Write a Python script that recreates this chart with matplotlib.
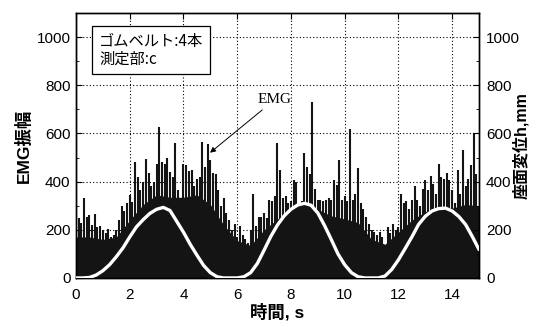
import numpy as np
import matplotlib
matplotlib.use("Agg")
import matplotlib.pyplot as plt

plt.rcParams['font.family'] = ['Liberation Sans', 'Noto Sans CJK JP', 'DejaVu Sans']

# ---- data ----
emg_time = np.round(np.arange(0, 15, 0.1), 1)
emg_peak = [
    270, 250, 230, 330, 255, 260, 220, 265, 210, 215,
    200, 185, 205, 170, 180, 200, 240, 300, 280, 310,
    345, 315, 480, 420, 365, 400, 495, 435, 380, 400,
    475, 625, 480, 475, 500, 440, 420, 560, 365, 285,
    475, 470, 445, 450, 380, 410, 420, 565, 460, 555,
    490, 435, 430, 365, 300, 330, 270, 240, 200, 225,
    170, 215, 180, 160, 145, 200, 350, 215, 255, 255,
    270, 250, 325, 320, 340, 560, 450, 330, 340, 310,
    320, 405, 400, 310, 320, 520, 460, 430, 730, 370,
    325, 325, 320, 325, 330, 325, 405, 385, 490, 325,
    340, 320, 620, 325, 350, 455, 310, 285, 255, 225,
    200, 190, 180, 190, 170, 130, 210, 185, 225, 200,
    210, 350, 310, 320, 285, 325, 380, 325, 300, 370,
    405, 365, 425, 390, 350, 475, 420, 410, 435, 405,
    365, 310, 450, 350, 530, 380, 410, 470, 600, 430,
]
body_time = np.arange(0, 15.01, 0.5)
emg_body = [170, 170, 160, 170, 240, 305, 345, 335, 335, 345,
            305, 220, 155, 135, 200, 245, 285, 310, 285, 258,
            245, 230, 160, 140, 190, 240, 275, 295, 290, 305, 300]

disp_time = np.arange(0, 15.01, 0.25)
disp_h = [0, 0, 2, 12, 30, 55, 88, 125, 170, 212, 242, 268, 285, 293, 280, 235,
          190, 140, 95, 52, 22, 5, 0, 0, 0, 5, 22, 60, 115, 172, 220, 258,
          285, 303, 310, 302, 270, 218, 160, 100, 55, 22, 5, 0, 0, 0, 8, 35,
          75, 122, 170, 222, 256, 278, 288, 290, 278, 255, 222, 172, 118]

xticks = [0, 2, 4, 6, 8, 10, 12, 14]
yticks = [0, 200, 400, 600, 800, 1000]

fig = plt.figure(figsize=(5.37, 3.27), dpi=100)
ax = fig.add_axes([0.1415, 0.150, 0.7505, 0.810])
ax.set_xlim(0, 15)
ax.set_ylim(0, 1100)

ax.grid(True, which='major', linestyle=(0, (1, 2)), color='black', linewidth=0.8, zorder=0)
ax.set_axisbelow(True)

ink = '#141414'
ax.fill_between(body_time, emg_body, 0, color=ink, lw=0, zorder=2)
ax.vlines(emg_time, 0, emg_peak, color=ink, lw=1.5, zorder=2)

ax2 = ax.twinx()
ax2.set_ylim(0, 1100)
ax2.plot(disp_time, disp_h, color='white', lw=2.4, zorder=5, solid_capstyle='round')

ax.set_xticks(xticks)
ax.set_yticks(yticks)
ax.set_yticks(np.arange(100, 1100, 200), minor=True)
ax2.set_yticks(yticks)
ax2.set_yticks(np.arange(100, 1100, 200), minor=True)
ax.tick_params(axis='both', which='both', direction='in', labelsize=11, top=True)
ax.tick_params(axis='x', pad=7)
ax.tick_params(axis='y', pad=4)
ax.tick_params(which='major', length=4)
ax.tick_params(which='minor', length=2.5)
ax2.tick_params(axis='y', which='both', direction='in', labelsize=11, pad=5)
ax2.tick_params(which='major', length=4)
ax2.tick_params(which='minor', length=2.5)

lab_font = ['Liberation Sans', 'Noto Sans CJK JP']
ax.set_xlabel('時間, s', fontsize=12.5, fontweight='bold', family=lab_font, labelpad=1)
ax.set_ylabel('EMG振幅', fontsize=12.5, fontweight='bold', family=lab_font, labelpad=3)
ax2.set_ylabel('座面変位h,mm', fontsize=11.5, fontweight='bold', family=lab_font)
ax2.yaxis.set_label_coords(1.083, 0.5)

ax.text(0.058, 0.925, 'ゴムベルト:4本\n測定部:c', transform=ax.transAxes, ha='left', va='top',
        fontsize=11, family=['Noto Sans CJK JP'], linespacing=1.05, zorder=6,
        bbox=dict(boxstyle='square,pad=0.45', fc='white', ec='black', lw=0.9))

ax.annotate('EMG', xy=(4.99, 520), xytext=(6.76, 740), fontsize=11,
            family=['Liberation Serif'], ha='left', va='center', zorder=6,
            arrowprops=dict(arrowstyle='-|>', color='black', lw=0.7, mutation_scale=8,
                            shrinkA=1, shrinkB=0))

for a in (ax, ax2):
    for s in a.spines.values():
        s.set_linewidth(1.0)

fig.savefig('out.png', dpi=100)
